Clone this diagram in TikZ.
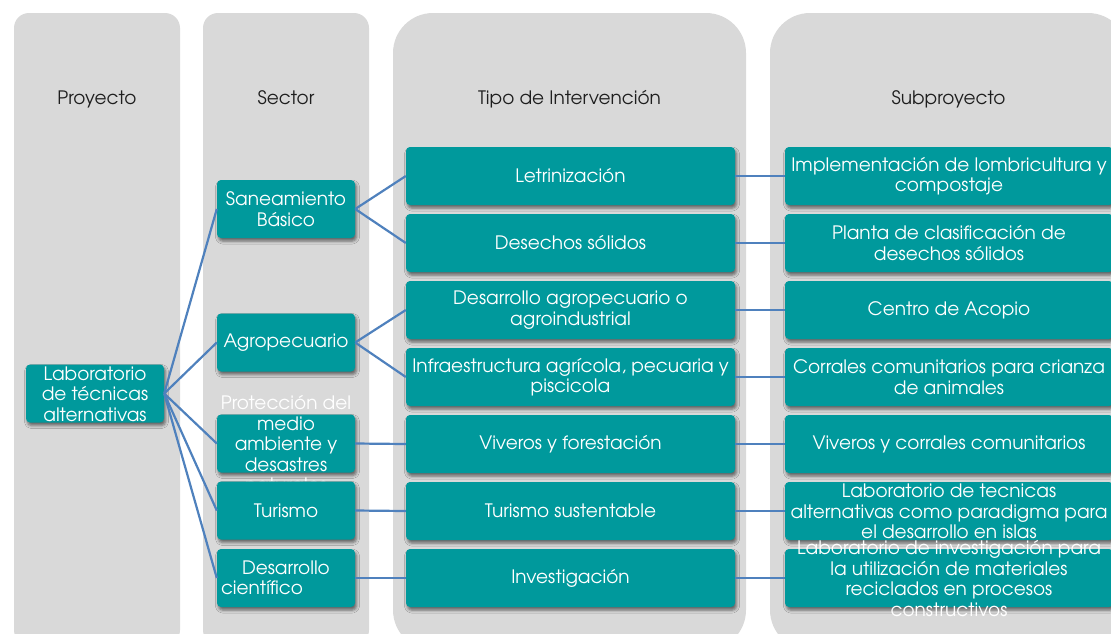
\documentclass[tikz,border=0pt]{standalone}
\usepackage{fontspec}
\setmainfont{TeX Gyre Adventor}
\usetikzlibrary{shadows.blur}
\definecolor{tealbox}{HTML}{00999C}
\definecolor{colbg}{HTML}{D9D9D9}
\definecolor{lnkblue}{HTML}{4F81BD}
\definecolor{hdr}{HTML}{1E1E1E}
\newcommand{\ovr}[1]{\raisebox{-7.5pt}[0pt][0pt]{\begin{tabular}{@{}c@{}}#1\end{tabular}}}
\tikzset{
  colshape/.style={fill=colbg},
  hdrtext/.style={text=hdr, font=\fontsize{18.5}{20.5}\selectfont, inner sep=0pt, anchor=base},
  tbox/.style={fill=tealbox, rounded corners=4pt, text=white, align=center,
    font=\fontsize{18.5}{20.5}\selectfont, inner sep=0pt,
    blur shadow={shadow xshift=1.5pt, shadow yshift=-3pt, shadow blur radius=3pt, shadow opacity=55}},
  secbox/.style={tbox, minimum width=138pt, minimum height=58pt},
  tipbox/.style={tbox, minimum width=329pt, minimum height=58pt},
  subbox/.style={tbox, minimum width=328pt, minimum height=58pt},
  lnkthick/.style={draw=lnkblue, line width=2.2pt},
  lnkthin/.style={draw=lnkblue, line width=1.6pt}
}
\begin{document}
\begin{tikzpicture}[x=1pt,y=-1pt]
\useasboundingbox (0,0) rectangle (1111,633);
% columns
\fill[colshape, rounded corners=15pt] (14,13) rectangle (180,645);
\fill[colshape, rounded corners=15pt] (203,13) rectangle (369,645);
\fill[colshape, rounded corners=40pt] (393,13) rectangle (746,650);
\fill[colshape, rounded corners=40pt] (770,13) rectangle (1128,650);
% headers
\node[hdrtext] (h1) at (97,104) {Proyecto};
\node[hdrtext] (h2) at (286,104) {Sector};
\node[hdrtext] (h3) at (569.5,104) {Tipo de Intervención};
\node[hdrtext] (h4) at (948.5,104) {Subproyecto};
% root
\node[secbox] (root) at (95,393.5) {\ovr{Laboratorio\\de técnicas\\alternativas}};
% sectors
\node[secbox] (san) at (286,209) {Saneamiento\\Básico};
\node[secbox] (agro) at (286,342.5) {Agropecuario};
\node[secbox] (prot) at (286,443.5) {\ovr{Protección del\\medio\\ambiente y\\desastres\\naturales}};
\node[secbox] (tur) at (286,510.5) {Turismo};
\node[secbox, align=left, inner xsep=4pt, text width=130pt] (des) at (286,578) {\hspace*{21pt}Desarrollo\\científico};
% tipo
\node[tipbox] (t1) at (570.5,176) {Letrinización};
\node[tipbox] (t2) at (570.5,243) {Desechos sólidos};
\node[tipbox] (t3) at (570.5,310) {Desarrollo agropecuario o\\agroindustrial};
\node[tipbox] (t4) at (570.5,377) {Infraestructura agrícola, pecuaria y\\piscicola};
\node[tipbox] (t5) at (570.5,444) {Viveros y forestación};
\node[tipbox] (t6) at (570.5,511) {Turismo sustentable};
\node[tipbox] (t7) at (570.5,578) {Investigación};
% sub
\node[subbox] (s1) at (949,176) {Implementación de lombricultura y\\compostaje};
\node[subbox] (s2) at (949,243) {Planta de clasificación de\\desechos sólidos};
\node[subbox] (s3) at (949,310) {Centro de Acopio};
\node[subbox] (s4) at (949,377) {Corrales comunitarios para crianza\\de animales};
\node[subbox] (s5) at (949,444) {Viveros y corrales comunitarios};
\node[subbox] (s6) at (949,511) {\ovr{Laboratorio de tecnicas\\alternativas como paradigma para\\el desarrollo en islas}};
\node[subbox] (s7) at (949,578) {\ovr{Laboratorio de investigación para\\la utilización de materiales\\reciclados en procesos\\constructivos}};
% connectors
\foreach \s in {san,agro,prot,tur,des} \draw[lnkthick] (root.east) -- (\s.west);
\draw[lnkthick] (san.east) -- (t1.west);
\draw[lnkthick] (san.east) -- (t2.west);
\draw[lnkthick] (agro.east) -- (t3.west);
\draw[lnkthick] (agro.east) -- (t4.west);
\draw[lnkthick] (prot.east) -- (t5.west);
\draw[lnkthick] (tur.east) -- (t6.west);
\draw[lnkthick] (des.east) -- (t7.west);
\foreach \i in {1,...,7} \draw[lnkthin] (t\i.east) -- (s\i.west);
\end{tikzpicture}
\end{document}
